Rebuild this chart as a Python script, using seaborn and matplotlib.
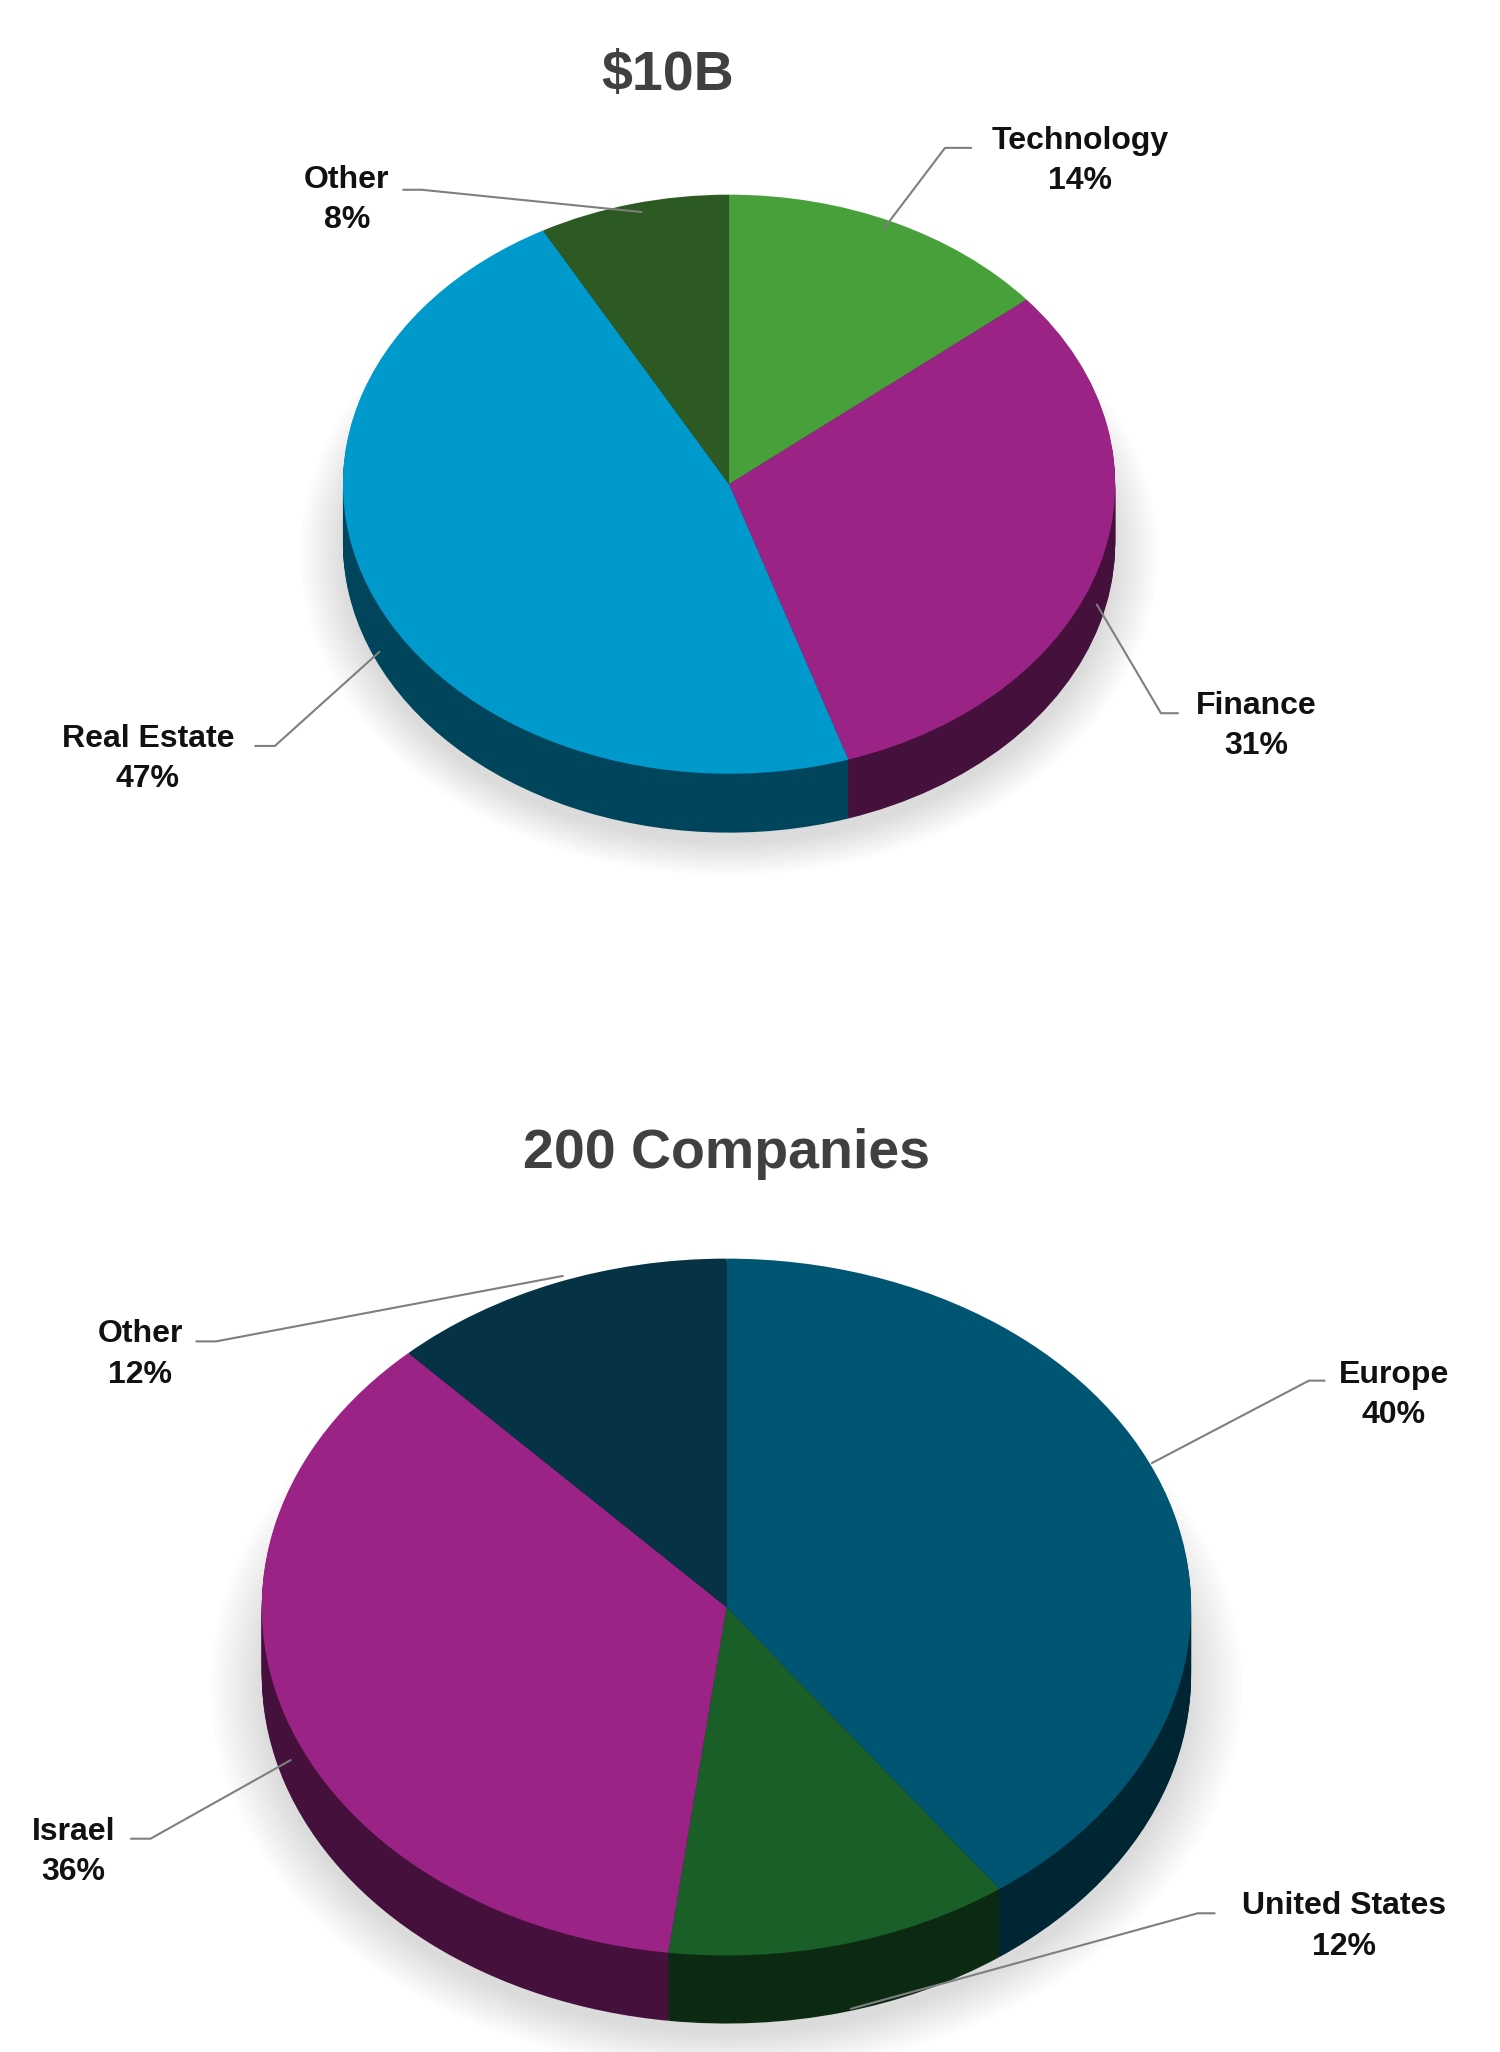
import matplotlib
matplotlib.use("Agg")
import matplotlib.pyplot as plt
import seaborn as sns
import numpy as np

sns.set_theme(style="white")
plt.rcParams['font.family'] = ['Liberation Sans', 'DejaVu Sans']

# Data
top_title = "$10B"
top_labels = ["Technology", "Finance", "Real Estate", "Other"]
top_values = [14, 31, 47, 8]
top_colors = ["#47A03A", "#9A2385", "#0099CC", "#2D5A22"]

bot_title = "200 Companies"
bot_labels = ["Europe", "United States", "Israel", "Other"]
bot_values = [40, 12, 36, 12]
bot_colors = ["#005573", "#1A5E28", "#9A2385", "#053345"]

W, H = 1146, 1568
SQ = 0.75  # vertical squash of the ellipse

fig = plt.figure(figsize=(15, 20.52), dpi=100)
ax = fig.add_axes([0, 0, 1, 1])

def P(x, y):
    return x, (H - y) / SQ

def darken(c, f):
    r, g, b = matplotlib.colors.to_rgb(c)
    return (r * f, g * f, b * f)

def pie3d(vals, cols, cx, cy, r, depth):
    x, y = P(cx, cy)
    d = depth / SQ
    for k in range(12):
        ax.pie([1], colors=[(0.5, 0.5, 0.5)], radius=r * (1.0 + 0.01 * k),
               center=(x, y - d - 8 / SQ), wedgeprops=dict(alpha=0.025, linewidth=0),
               frame=True)
    n = 40
    for i in range(n, 0, -1):
        ax.pie(vals, colors=[darken(c, 0.45) for c in cols], radius=r,
               center=(x, y - d * i / n), startangle=90, counterclock=False,
               wedgeprops=dict(linewidth=0), frame=True)
    ax.pie(vals, colors=cols, radius=r, center=(x, y), startangle=90,
           counterclock=False, wedgeprops=dict(linewidth=0), frame=True)

pie3d(top_values, top_colors, 557, 370, 295, 45)
pie3d(bot_values, bot_colors, 555, 1228, 355, 52)

def leader(pts, text, lx, ly):
    xs, ys = zip(*[P(*p) for p in pts])
    ax.plot(xs, ys, color="#7F7F7F", lw=1.5)
    ax.text(*P(lx, ly), text, ha='center', va='center', fontsize=23,
            fontweight='bold', color='#111111', linespacing=1.45)

leader([(675, 175), (722, 113), (742, 113)], f"{top_labels[0]}\n{top_values[0]}%", 825, 123)
leader([(838, 462), (887, 545), (900, 545)], f"{top_labels[1]}\n{top_values[1]}%", 960, 555)
leader([(290, 498), (210, 570), (195, 570)], f"{top_labels[2]}\n{top_values[2]}%", 113, 580)
leader([(490, 162), (322, 145), (308, 145)], f"{top_labels[3]}\n{top_values[3]}%", 265, 153)

leader([(880, 1118), (1000, 1055), (1012, 1055)], f"{bot_labels[0]}\n{bot_values[0]}%", 1065, 1066)
leader([(650, 1535), (915, 1462), (928, 1462)], f"{bot_labels[1]}\n{bot_values[1]}%", 1027, 1472)
leader([(222, 1345), (115, 1405), (100, 1405)], f"{bot_labels[2]}\n{bot_values[2]}%", 56, 1415)
leader([(430, 975), (165, 1025), (150, 1025)], f"{bot_labels[3]}\n{bot_values[3]}%", 107, 1035)

ax.text(*P(510, 58), top_title, ha='center', va='center', fontsize=40,
        fontweight='bold', color='#404040')
ax.text(*P(555, 882), bot_title, ha='center', va='center', fontsize=40,
        fontweight='bold', color='#404040')

ax.set_aspect('auto')
ax.set_xlim(0, W)
ax.set_ylim(0, H / SQ)
ax.axis('off')

fig.savefig("out.png", dpi=100, facecolor='white')
